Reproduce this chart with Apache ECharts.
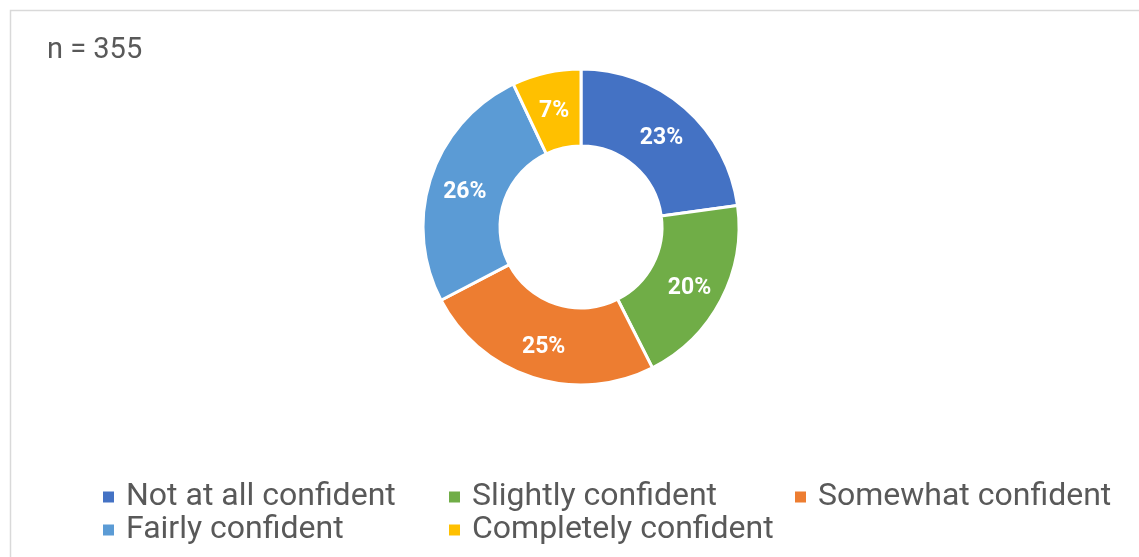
<!DOCTYPE html>
<html>
<head>
<meta charset="utf-8">
<script src="https://cdn.jsdelivr.net/npm/echarts@6/dist/echarts.min.js"></script>
<style>
html,body{margin:0;padding:0;background:#fff;}
#c{width:1139px;height:557px;}
</style>
</head>
<body>
<div id="c"></div>
<script>
const categories = ['Not at all confident', 'Slightly confident', 'Somewhat confident', 'Fairly confident', 'Completely confident'];
const counts = [81, 70, 88, 91, 25];
const colors = ['#4472C4', '#70AD47', '#ED7D31', '#5B9BD5', '#FFC000'];
const sampleLabel = 'n = 355';
const legendRow1 = categories.slice(0, 3);
const legendRow2 = categories.slice(3);

const total = counts.reduce((a, b) => a + b, 0);
function legendRow(names, top) {
  return {
    left: 96, top: top, width: 1060,
    itemWidth: 13, itemHeight: 13, itemGap: 10, icon: 'rect',
    data: names,
    textStyle: {
      fontFamily: 'Roboto', fontSize: 32, color: '#595959',
      width: 311, lineHeight: 32, overflow: 'none', padding: [0, 0, 0, 6]
    }
  };
}
const chart = echarts.init(document.getElementById('c'), null, {renderer: 'canvas'});
chart.setOption({
  animation: false,
  backgroundColor: '#ffffff',
  color: colors,
  graphic: [{
    type: 'rect',
    shape: {x: 10.5, y: 10.5, width: 1200, height: 600},
    style: {fill: '#ffffff', stroke: '#d9d9d9', lineWidth: 1.5},
    z: -10
  }],
  title: {
    text: sampleLabel,
    left: 42,
    top: 31,
    textStyle: {fontFamily: 'Roboto', fontSize: 29, fontWeight: 'normal', color: '#595959'}
  },
  legend: [legendRow(legendRow1, 476), legendRow(legendRow2, 509)],
  series: [{
    type: 'pie',
    center: [581, 227],
    radius: [81, 158],
    startAngle: 90,
    clockwise: true,
    itemStyle: {borderColor: '#ffffff', borderWidth: 3},
    label: {
      show: true,
      position: 'inside',
      color: '#ffffff',
      fontFamily: 'Roboto',
      fontWeight: 'bold',
      fontSize: 23,
      offset: [0, 4],
      formatter: p => Math.round(p.value / total * 100) + '%'
    },
    labelLine: {show: false},
    emphasis: {disabled: true},
    data: categories.map((c, i) => ({name: c, value: counts[i]}))
  }]
});
</script>
</body>
</html>
